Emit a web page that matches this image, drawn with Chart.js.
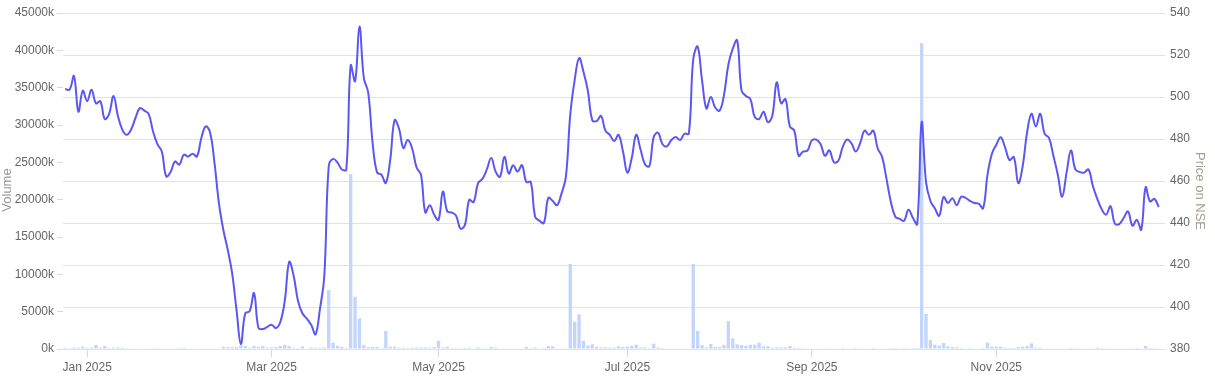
<!DOCTYPE html>
<html>
<head>
<meta charset="utf-8">
<script src="https://cdn.jsdelivr.net/npm/chart.js@4.4.1/dist/chart.umd.min.js"></script>
<style>
html,body{margin:0;padding:0;background:#fff;}
#wrap{width:1215px;height:376px;position:relative;}
</style>
</head>
<body>
<div id="wrap"><canvas id="c"></canvas></div>
<script>
// ---- categories: NSE trading days ----
const startDate = '2024-12-24';
const endDate = '2025-12-26';
const holidays = ['2024-12-25','2025-02-26','2025-03-14','2025-03-31','2025-04-10','2025-04-14','2025-04-18',
  '2025-08-15','2025-08-27','2025-10-02','2025-10-21','2025-10-22','2025-11-05','2025-12-25'];
const tickLabels = ['Jan 2025','Mar 2025','May 2025','Jul 2025','Sep 2025','Nov 2025'];
const monthNames = ['Jan','Feb','Mar','Apr','May','Jun','Jul','Aug','Sep','Oct','Nov','Dec'];

// ---- series: closing price on NSE ----
const price = [
503.8,503.5,510,493,503,498,503.5,497,498,489.5,
492,500.5,491,484.5,482,484.5,490,494.7,493.5,492,
483.6,477.6,474,462.2,464.3,469.3,467.8,472.5,471.7,473,
471.7,480.5,486,483,468.5,449.5,436.8,427.3,416.2,398.7,
382.4,397,398,406.6,390,389.5,390.5,391.6,390,393,
403,421.5,415,403,397,394.5,391.5,387,399,415,
467,470.5,468.8,465.5,465.4,515,507.5,533.5,509,502,
478,464.1,463,459,470,489,485,475.7,479.5,475.5,
466.5,463,445,448.5,444,441.5,455,445.5,445,443.5,
437.3,439,451,450,459,461,465.5,471,464.5,462,
471.5,463.5,467.5,464.5,467.5,459.5,459.5,443,441,440,
452,450.5,448.5,454,462,491.6,508,518.5,512,503,
489,488.5,491,484,482,479,482,474,464,471,
482,475,468,467,481,483,477.5,476.5,479.5,481,
479.5,482.5,482.5,518,524,508,494.5,500,495,493.5,
501,515.5,523,527,503,500.5,499,490.5,489.5,493,
488,491,507,497,499,486,484,472,474,474.5,
479.3,479.7,477.5,472,474.6,469,469.5,476,479.7,478,
474,478,484,482,484,475.5,471.5,461,450,443,
442,441,446.3,442.5,439.5,488,459.5,450.5,447,443.5,
452.4,449.5,451.8,448.5,452.5,452,450.5,449.5,449.2,447,
463,473,477.3,480.8,476,470,471.4,459,467,483,
492,486,492,482.5,480.5,472,463,452.5,464,474.5,
465.5,464.3,464,465.5,457.5,451.5,446.5,444,448,439.7,
439.5,442.4,445.5,438.7,441.5,436.8,457,450.3,451.5,447.6
];

// ---- series: traded volume (thousands of shares) ----
const volumeK = [
150,120,200,180,310,150,200,535,180,400,
120,180,200,180,100,90,80,70,60,80,
100,130,90,70,80,60,120,150,90,70,
60,80,70,60,80,90,310,270,220,270,
490,400,180,400,310,400,180,220,270,400,
535,400,180,130,360,90,200,180,180,200,
7900,840,400,270,150,23440,7000,4110,535,270,
270,270,150,2410,310,310,180,180,150,180,
200,200,220,180,270,1110,220,310,130,130,
90,130,180,90,220,130,90,270,180,50,
50,90,50,50,50,270,130,220,90,130,
400,360,90,90,90,11380,3660,4640,1110,450,
625,310,220,220,180,180,360,270,310,400,
580,220,220,130,715,220,130,90,90,90,
90,90,90,11380,2410,535,220,670,270,270,
535,3750,1430,625,535,450,580,580,850,360,
360,180,220,220,220,400,180,130,130,90,
90,50,90,90,90,50,90,130,90,90,
130,90,90,90,130,90,90,90,130,130,
90,130,90,130,130,40940,4690,1200,580,450,
800,360,270,220,130,90,130,90,90,130,
845,310,310,310,180,130,130,270,310,400,
760,180,180,90,90,90,90,90,90,130,
130,90,90,90,90,180,130,90,90,90,
90,90,90,90,130,90,400,130,130,90
];

// ---- axis tick values and titles ----
const volumeTicks = [0,5000,10000,15000,20000,25000,30000,35000,40000,45000];
const priceTicks = [380,400,420,440,460,480,500,520,540];
const leftTitle = 'Volume';
const rightTitle = 'Price on NSE';

// build trading-day list
function iso(d){return d.toISOString().slice(0,10);}
const dates = [];
for (let d = new Date(startDate+'T00:00:00Z'); iso(d) <= endDate; d.setUTCDate(d.getUTCDate()+1)) {
  const wd = d.getUTCDay();
  if (wd === 0 || wd === 6) continue;
  if (holidays.includes(iso(d))) continue;
  dates.push(iso(d));
}
function monthLabel(s){return monthNames[+s.slice(5,7)-1] + ' ' + s.slice(0,4);}
// indices of first trading day of each labelled month
const tickIdx = [];
dates.forEach((s, i) => {
  const prev = dates[i-1];
  if ((!prev || prev.slice(0,7) !== s.slice(0,7)) && tickLabels.includes(monthLabel(s))) tickIdx.push(i);
});

const LEFT_W = 63, RIGHT_W = 54, X_H = 27;
const FONT = "'Helvetica Neue', 'Helvetica', 'Arial', sans-serif";

const axisTitles = {
  id: 'axisTitles',
  afterDraw(chart) {
    const ctx = chart.ctx;
    ctx.save();
    ctx.font = '13px ' + FONT;
    ctx.textAlign = 'center';
    ctx.textBaseline = 'middle';
    ctx.fillStyle = '#999';
    ctx.translate(7, 190);
    ctx.rotate(-Math.PI/2);
    ctx.fillText(leftTitle, 0, 0);
    ctx.restore();
    ctx.save();
    ctx.font = '13px ' + FONT;
    ctx.textAlign = 'center';
    ctx.textBaseline = 'middle';
    ctx.fillStyle = '#a39e94';
    ctx.translate(1200, 191);
    ctx.rotate(Math.PI/2);
    ctx.fillText(rightTitle, 0, 0);
    ctx.restore();
  }
};

new Chart(document.getElementById('c'), {
  data: {
    labels: dates,
    datasets: [
      {
        type: 'line',
        label: rightTitle,
        data: price,
        yAxisID: 'price',
        borderColor: '#5b57f2',
        borderWidth: 2,
        pointRadius: 0,
        tension: 0.4,
        fill: false
      },
      {
        type: 'bar',
        label: leftTitle,
        data: volumeK,
        yAxisID: 'volume',
        backgroundColor: '#c2d5fb',
        borderWidth: 0,
        barPercentage: 0.95,
        categoryPercentage: 0.8
      }
    ]
  },
  plugins: [axisTitles],
  options: {
    responsive: true,
    maintainAspectRatio: false,
    animation: false,
    layout: { padding: { top: 13, left: 0, right: 0, bottom: 0 } },
    plugins: { legend: { display: false }, tooltip: { enabled: false } },
    scales: {
      x: {
        type: 'category',
        offset: true,
        grid: { offset: false, drawOnChartArea: false, drawTicks: true, tickLength: 8, color: '#d9d9d9' },
        border: { display: false },
        afterBuildTicks: function(s){ s.ticks = tickIdx.map(i => ({value: i})); },
        ticks: {
          autoSkip: false, maxRotation: 0, minRotation: 0, padding: 3,
          color: '#666', font: { size: 12 },
          callback: function(v) { return monthLabel(dates[v]); }
        },
        afterFit: function(s){ s.height = X_H; }
      },
      volume: {
        type: 'linear', position: 'left',
        min: volumeTicks[0], max: volumeTicks[volumeTicks.length-1],
        afterBuildTicks: function(s){ s.ticks = volumeTicks.map(v => ({value: v})); },
        grid: { drawOnChartArea: false, drawTicks: true, tickLength: 6, color: '#d9d9d9' },
        border: { display: false },
        ticks: { color: '#666', font: { size: 12 }, padding: 3, callback: v => v + 'k' },
        title: { display: false },
        afterFit: function(s){ s.width = LEFT_W; }
      },
      price: {
        type: 'linear', position: 'right',
        min: priceTicks[0], max: priceTicks[priceTicks.length-1],
        afterBuildTicks: function(s){ s.ticks = priceTicks.map(v => ({value: v})); },
        grid: { drawOnChartArea: true, drawTicks: true, tickLength: 4, color: '#e2e2e2' },
        border: { display: false },
        ticks: { color: '#666', font: { size: 12 }, padding: 5 },
        title: { display: false },
        afterFit: function(s){ s.width = RIGHT_W; }
      }
    }
  }
});
</script>
</body>
</html>
